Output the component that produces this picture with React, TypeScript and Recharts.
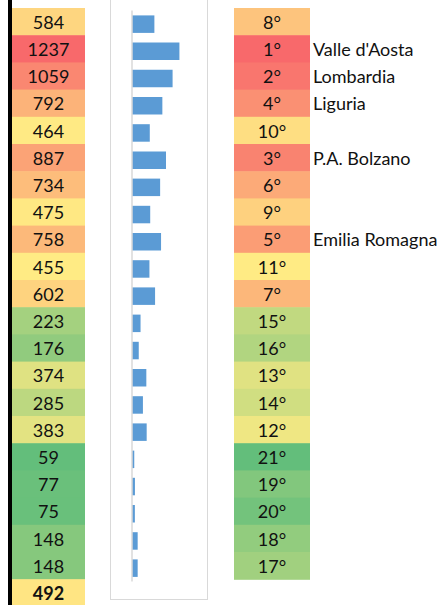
import { Bar, BarChart, XAxis, YAxis } from "recharts";

const regions = [
  "Piemonte", "Valle d'Aosta", "Lombardia", "Liguria", "P.A. Trento", "P.A. Bolzano",
  "Veneto", "Friuli Venezia Giulia", "Emilia Romagna", "Toscana", "Umbria", "Marche",
  "Lazio", "Abruzzo", "Molise", "Campania", "Puglia", "Basilicata", "Calabria", "Sicilia", "Sardegna",
];
const values = [584, 1237, 1059, 792, 464, 887, 734, 475, 758, 455, 602, 223, 176, 374, 285, 383, 59, 77, 75, 148, 148];
const ranks = [8, 1, 2, 4, 10, 3, 6, 9, 5, 11, 7, 15, 16, 13, 14, 12, 21, 19, 20, 18, 17];
const average = 492;
const shownLabels = ["Valle d'Aosta", "Lombardia", "Liguria", "P.A. Bolzano", "Emilia Romagna"];

const rows = regions.map((region, i) => ({ region, value: values[i], rank: ranks[i] }));

// excel-like 3 colour scale: green -> yellow -> red
const GREEN = [99, 190, 123];
const YELLOW = [255, 235, 132];
const RED = [248, 105, 107];
const mix = (a: number[], b: number[], t: number) =>
  `rgb(${a.map((c, k) => Math.round(c + (b[k] - c) * t)).join(",")})`;
const scaleColor = (v: number, lo: number, mid: number, hi: number) =>
  v <= mid ? mix(GREEN, YELLOW, (v - lo) / (mid - lo)) : mix(YELLOW, RED, (v - mid) / (hi - mid));

const sorted = [...values].sort((a, b) => a - b);
const vMin = sorted[0];
const vMax = sorted[sorted.length - 1];
const vMid = sorted[Math.floor(sorted.length / 2)];
const valueColor = (v: number) => scaleColor(v, vMin, vMid, vMax);
const rankColor = (r: number) => scaleColor(-r, -21, -11, -1);

const ROW_H = 27.2;
const FONT = "Lato, 'Open Sans', sans-serif";
const FS = 18;
const BASE = 7.2;

const LeftCell = (props: any) => {
  const { y, payload } = props;
  const i = payload.index;
  const top = y - ROW_H / 2 - 2.4;
  return (
    <g>
      <rect x={12} y={top} width={73} height={ROW_H + 0.6} fill={valueColor(values[i])} />
      <text x={48.5} y={top + ROW_H / 2 + BASE} textAnchor="middle" fontSize={FS} fill="#111" fontFamily={FONT}>
        {values[i]}
      </text>
      {i === values.length - 1 && (
        <g>
          <rect x={12} y={top + ROW_H} width={73} height={ROW_H + 4} fill={valueColor(average)} />
          <text x={48.5} y={top + ROW_H * 1.5 + BASE} textAnchor="middle" fontSize={FS} fontWeight="bold" fill="#111" fontFamily={FONT}>
            {average}
          </text>
        </g>
      )}
    </g>
  );
};

const RightCell = (props: any) => {
  const { y, payload } = props;
  const i = payload.index;
  const top = y - ROW_H / 2 - 2.4;
  const label = shownLabels.includes(regions[i]) ? regions[i] : "";
  return (
    <g>
      <rect x={234} y={top} width={76} height={ROW_H + 0.6} fill={rankColor(ranks[i])} />
      <text x={272} y={top + ROW_H / 2 + BASE} textAnchor="middle" fontSize={FS} fill="#111" fontFamily={FONT}>
        {`${ranks[i]}°`}
      </text>
      {label && (
        <text x={313} y={top + ROW_H / 2 + BASE} textAnchor="start" fontSize={FS} fill="#111" fontFamily={FONT}>
          {label}
        </text>
      )}
    </g>
  );
};

export default function App() {
  return (
    <div style={{ position: "absolute", left: 0, top: 0, width: 441, height: 605, background: "#fff", overflow: "hidden" }}>
      <div style={{ position: "absolute", left: 8, top: 0, width: 4, height: 605, background: "#000" }} />
      <div
        style={{
          position: "absolute", left: 110, top: -4, width: 96, height: 602,
          border: "1.5px solid #d9d9d9",
        }}
      />
      <div style={{ position: "absolute", left: 0, top: 0 }}>
        <BarChart
          width={441}
          height={605}
          layout="vertical"
          data={rows}
          margin={{ top: 10.4, bottom: 23.4, left: 0, right: 0 }}
          barSize={17.5}
        >
          <XAxis type="number" domain={[0, 1800]} hide />
          <YAxis
            yAxisId="l"
            type="category"
            dataKey="region"
            width={132}
            interval={0}
            axisLine={{ stroke: "#d9d9d9", strokeWidth: 1.5 }}
            tickLine={false}
            tick={LeftCell}
          />
          <YAxis
            yAxisId="r"
            orientation="right"
            type="category"
            dataKey="region"
            width={240}
            interval={0}
            axisLine={false}
            tickLine={false}
            tick={RightCell}
          />
          <Bar yAxisId="l" dataKey="value" fill="#5b9bd5" isAnimationActive={false} />
        </BarChart>
      </div>
    </div>
  );
}
